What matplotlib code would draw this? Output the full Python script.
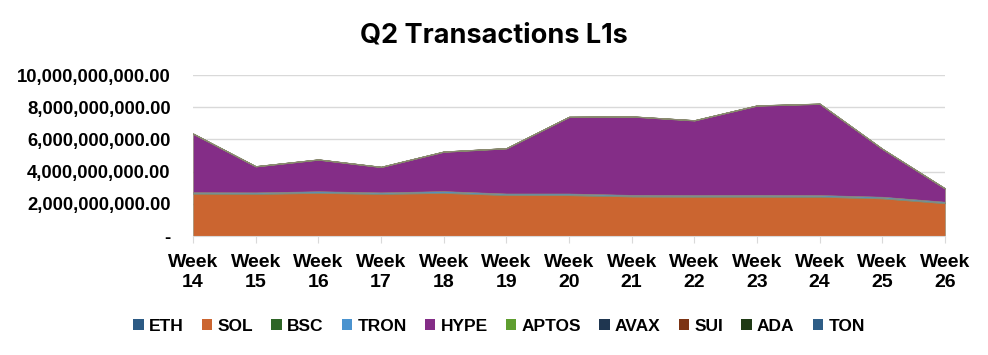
import matplotlib
matplotlib.use("Agg")
import matplotlib.pyplot as plt
import matplotlib.patches as mpatches
from matplotlib.ticker import FuncFormatter, FixedLocator
import numpy as np

weeks = ["Week\n14", "Week\n15", "Week\n16", "Week\n17", "Week\n18", "Week\n19", "Week\n20",
         "Week\n21", "Week\n22", "Week\n23", "Week\n24", "Week\n25", "Week\n26"]
series_names = ["ETH", "SOL", "BSC", "TRON", "HYPE", "APTOS", "AVAX", "SUI", "ADA", "TON"]

eth = [0.012e9, 0.012e9, 0.012e9, 0.012e9, 0.012e9, 0.012e9, 0.012e9, 0.012e9, 0.012e9, 0.012e9, 0.012e9, 0.012e9, 0.012e9]
sol = [2.62e9, 2.60e9, 2.66e9, 2.60e9, 2.66e9, 2.53e9, 2.52e9, 2.44e9, 2.43e9, 2.43e9, 2.42e9, 2.32e9, 2.02e9]
bsc = [0.03e9, 0.03e9, 0.03e9, 0.03e9, 0.03e9, 0.03e9, 0.03e9, 0.035e9, 0.035e9, 0.035e9, 0.035e9, 0.03e9, 0.03e9]
tron = [0.06e9, 0.07e9, 0.08e9, 0.07e9, 0.09e9, 0.07e9, 0.08e9, 0.07e9, 0.07e9, 0.08e9, 0.08e9, 0.08e9, 0.07e9]
hype = [3.62e9, 1.60e9, 1.95e9, 1.56e9, 2.43e9, 2.79e9, 4.74e9, 4.85e9, 4.62e9, 5.53e9, 5.65e9, 2.95e9, 0.80e9]
aptos = [0.02e9, 0.02e9, 0.02e9, 0.02e9, 0.02e9, 0.02e9, 0.02e9, 0.02e9, 0.02e9, 0.02e9, 0.02e9, 0.02e9, 0.02e9]
avax = [0.005e9] * 13
sui = [0.01e9] * 13
ada = [0.003e9] * 13
ton = [0.004e9] * 13

colors = ["#2C5A84", "#CB6530", "#2E6527", "#4A93CF", "#842D87", "#5F9E30",
          "#1F3650", "#7C3414", "#1F3A15", "#2E5D86"]

plt.rcParams['font.family'] = ['Liberation Sans', 'DejaVu Sans']

fig = plt.figure(figsize=(9.88, 3.55), dpi=100)
ax = fig.add_axes([0.1953, 0.3352, 0.7612, 0.4535])

x = np.arange(len(weeks))
data = [eth, sol, bsc, tron, hype, aptos, avax, sui, ada, ton]
ax.stackplot(x, *data, colors=colors, linewidth=0.4, edgecolor='#8A8A70')
ax.set_xlim(0, len(weeks) - 1)
ax.set_ylim(0, 10e9)

ax.yaxis.set_major_locator(FixedLocator([0, 2e9, 4e9, 6e9, 8e9, 10e9]))
ax.yaxis.set_major_formatter(FuncFormatter(lambda v, p: "-" if v == 0 else f"{v:,.2f}"))
ax.grid(axis='y', color='#D9D9D9', linewidth=1.0)
ax.set_axisbelow(True)
ax.set_xticks(x)
ax.set_xticklabels(weeks, fontweight='bold', fontsize=14, linespacing=1.25)
for lab in ax.get_yticklabels():
    lab.set_fontweight('bold')
    lab.set_fontsize(13.3)
ax.tick_params(axis='y', length=0, pad=16)
ax.tick_params(axis='x', length=5, color='#D9D9D9', pad=8)
for s in ['top', 'right', 'left']:
    ax.spines[s].set_visible(False)
ax.spines['bottom'].set_color('#D9D9D9')

fig.text(0.5, 0.90, "Q2 Transactions L1s", ha='center', va='center',
         fontsize=19.5, fontweight='bold', family=['Inter', 'DejaVu Sans'])

handles = [mpatches.Patch(facecolor=c, edgecolor='none', label=n) for c, n in zip(colors, series_names)]
leg = fig.legend(handles=handles, loc='center', bbox_to_anchor=(0.505, 0.08), ncol=10,
                 frameon=False, prop={'weight': 'bold', 'size': 12.5},
                 handlelength=0.6, handleheight=0.6, handletextpad=0.3, columnspacing=1.05)

fig.savefig("out.png", dpi=100)
